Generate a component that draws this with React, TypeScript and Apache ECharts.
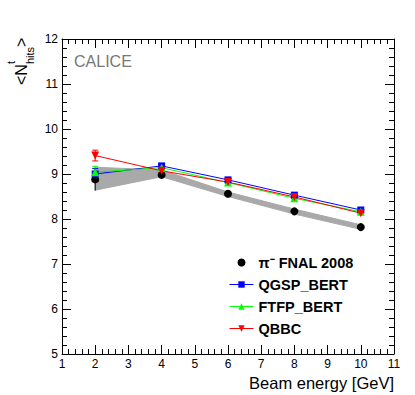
import React, { useEffect, useRef } from "react";
import * as echarts from "echarts";

const energies = [2, 4, 6, 8, 10];
const dataY = [8.88, 8.98, 8.56, 8.17, 7.82];
const dataErr = [0.25, 0.03, 0.03, 0.03, 0.03];
const sysLow = [8.64, 8.94, 8.5, 8.11, 7.77];
const sysHigh = [9.15, 9.09, 8.6, 8.22, 7.87];
const qgspY = [9.0, 9.18, 8.87, 8.53, 8.2];
const qgspErr = [0.12, 0.03, 0.03, 0.03, 0.03];
const ftfpY = [9.04, 9.14, 8.81, 8.46, 8.16];
const ftfpErr = [0.13, 0.03, 0.03, 0.03, 0.03];
const qbbcY = [9.41, 9.07, 8.82, 8.49, 8.13];
const qbbcErr = [0.12, 0.03, 0.03, 0.03, 0.03];
const xTicks = [1, 2, 3, 4, 5, 6, 7, 8, 9, 10, 11];
const yTicks = [5, 6, 7, 8, 9, 10, 11, 12];

const FONT = "'Liberation Sans', Arial, Helvetica, sans-serif";
const DATA_NAME = "\u03c0\u207b FNAL 2008";

function errorSeries(name: string, ys: number[], errs: number[], color: string, cap: number) {
  return {
    type: "custom",
    name,
    xAxisIndex: 0,
    yAxisIndex: 0,
    data: energies.map((x, i) => [x, ys[i], errs[i]]),
    encode: { x: 0, y: 1 },
    silent: true,
    renderItem: (params: any, api: any) => {
      const x = api.value(0);
      const y = api.value(1);
      const e = api.value(2);
      const top = api.coord([x, y + e]);
      const bot = api.coord([x, y - e]);
      const st = { stroke: color, lineWidth: 1 };
      const children: any[] = [
        { type: "line", shape: { x1: top[0], y1: top[1], x2: bot[0], y2: bot[1] }, style: st },
      ];
      if (cap > 0) {
        children.push({ type: "line", shape: { x1: top[0] - cap, y1: top[1], x2: top[0] + cap, y2: top[1] }, style: st });
        children.push({ type: "line", shape: { x1: bot[0] - cap, y1: bot[1], x2: bot[0] + cap, y2: bot[1] }, style: st });
      }
      return { type: "group", children };
    },
  };
}

function lineSeries(name: string, ys: number[], color: string, symbol: string, rotate: number, size: number) {
  return {
    type: "line",
    name,
    data: energies.map((x, i) => [x, ys[i]]),
    symbol,
    symbolRotate: rotate,
    symbolSize: size,
    showSymbol: true,
    lineStyle: { color, width: 1 },
    itemStyle: { color, opacity: 1 },
    emphasis: { disabled: true },
  };
}

export default function App() {
  const ref = useRef<HTMLDivElement>(null);
  useEffect(() => {
    if (!ref.current) return;
    document.body.style.margin = "0";
    const chart = echarts.init(ref.current, undefined, { renderer: "svg" });
    const axisCommon = {
      type: "value",
      axisLine: { show: true, onZero: false, lineStyle: { color: "#000", width: 1 } },
      axisTick: { show: true, inside: true, length: 9, lineStyle: { color: "#000", width: 1 } },
      minorTick: { show: true, splitNumber: 5, length: 5, lineStyle: { color: "#000", width: 1 } },
      splitLine: { show: false },
      minorSplitLine: { show: false },
    };
    const option: any = {
      animation: false,
      textStyle: { fontFamily: FONT },
      grid: { left: 62, right: 21, top: 39, bottom: 41, containLabel: false },
      xAxis: [
        {
          ...axisCommon,
          position: "bottom",
          min: xTicks[0],
          max: xTicks[xTicks.length - 1],
          interval: 1,
          axisLabel: { show: true, color: "#000", fontSize: 12, margin: 4, fontFamily: FONT, showMinLabel: true, showMaxLabel: true },
          name: "Beam energy [GeV]",
          nameLocation: "end",
          nameGap: 0,
          nameTextStyle: { fontSize: 16.5, color: "#000", fontFamily: FONT, align: "right", verticalAlign: "top", padding: [20, 0, 0, 0] },
        },
        {
          ...axisCommon,
          position: "top",
          min: xTicks[0],
          max: xTicks[xTicks.length - 1],
          interval: 1,
          axisLabel: { show: false },
        },
      ],
      yAxis: [
        {
          ...axisCommon,
          position: "left",
          min: yTicks[0],
          max: yTicks[yTicks.length - 1],
          interval: 1,
          axisLabel: { show: true, color: "#000", fontSize: 12, margin: 4, fontFamily: FONT, showMinLabel: true, showMaxLabel: true },
        },
        {
          ...axisCommon,
          position: "right",
          min: yTicks[0],
          max: yTicks[yTicks.length - 1],
          interval: 1,
          axisLabel: { show: false },
        },
      ],
      legend: {
        orient: "vertical",
        left: 224,
        top: 250,
        itemWidth: 24,
        itemHeight: 8,
        itemGap: 7,
        selectedMode: false,
        lineStyle: { width: 1 },
        data: [DATA_NAME, "QGSP_BERT", "FTFP_BERT", "QBBC"],
        textStyle: { fontSize: 14.5, fontWeight: "bold", color: "#000", fontFamily: FONT, lineHeight: 15 },
      },
      graphic: [
        {
          type: "text",
          left: 74,
          top: 53,
          style: { text: "CALICE", fontSize: 16, fill: "#777777", fontFamily: FONT },
        },
        {
          type: "group",
          x: 27,
          y: 85,
          rotation: Math.PI / 2,
          children: [
            { type: "text", x: 0, y: -6, style: { text: "<N", fontSize: 16, fill: "#000", fontFamily: FONT, verticalAlign: "middle", align: "left" } },
            { type: "text", x: 21, y: -16, style: { text: "t", fontSize: 11, fill: "#000", fontFamily: FONT, verticalAlign: "middle", align: "left" } },
            { type: "text", x: 21, y: 3, style: { text: "hits", fontSize: 11, fill: "#000", fontFamily: FONT, verticalAlign: "middle", align: "left" } },
            { type: "text", x: 38, y: -6, style: { text: ">", fontSize: 16, fill: "#000", fontFamily: FONT, verticalAlign: "middle", align: "left" } },
          ],
        },
      ],
      series: [
        {
          type: "custom",
          name: "sys band",
          data: energies.map((x, i) => [x, sysLow[i], sysHigh[i]]),
          encode: { x: 0, y: [1, 2] },
          silent: true,
          renderItem: (params: any, api: any) => {
            if (params.dataIndex !== 0) return null;
            const pts: number[][] = [];
            for (let i = 0; i < energies.length; i++) pts.push(api.coord([energies[i], sysHigh[i]]));
            for (let i = energies.length - 1; i >= 0; i--) pts.push(api.coord([energies[i], sysLow[i]]));
            return { type: "polygon", shape: { points: pts }, style: { fill: "#a9a9a9", stroke: "#a9a9a9" } };
          },
        },
        errorSeries("err qgsp", qgspY, qgspErr, "#0000ff", 3),
        errorSeries("err ftfp", ftfpY, ftfpErr, "#00ff00", 3),
        errorSeries("err qbbc", qbbcY, qbbcErr, "#ff0000", 3),
        errorSeries("err data", dataY, dataErr, "#000000", 0),
        lineSeries("QGSP_BERT", qgspY, "#0000ff", "rect", 0, 7),
        lineSeries("FTFP_BERT", ftfpY, "#00ff00", "triangle", 0, 8),
        lineSeries("QBBC", qbbcY, "#ff0000", "triangle", 180, 8),
        {
          type: "scatter",
          name: DATA_NAME,
          data: energies.map((x, i) => [x, dataY[i]]),
          symbol: "circle",
          symbolSize: 8,
          itemStyle: { color: "#000", opacity: 1 },
          emphasis: { disabled: true },
        },
      ],
    };
    chart.setOption(option);
    return () => chart.dispose();
  }, []);
  return <div ref={ref} style={{ width: 415, height: 395 }} />;
}
